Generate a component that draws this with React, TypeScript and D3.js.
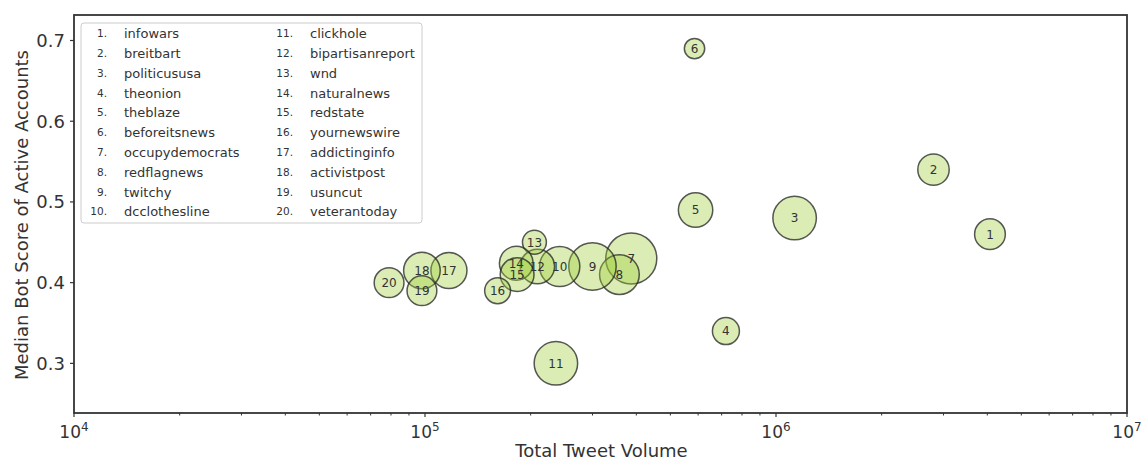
import React, { useEffect, useRef } from "react";
import * as d3 from "d3";

// news sources, numbered 1..20 in the legend
const sources = [
  "infowars", "breitbart", "politicususa", "theonion", "theblaze",
  "beforeitsnews", "occupydemocrats", "redflagnews", "twitchy", "dcclothesline",
  "clickhole", "bipartisanreport", "wnd", "naturalnews", "redstate",
  "yournewswire", "addictinginfo", "activistpost", "usuncut", "veterantoday",
];
// total tweet volume (x, log scale)
const tweetVolume = [
  4.07e6, 2.81e6, 1.13e6, 7.2e5, 5.9e5,
  5.86e5, 3.87e5, 3.58e5, 3.0e5, 2.42e5,
  2.36e5, 2.09e5, 2.05e5, 1.82e5, 1.83e5,
  1.61e5, 1.17e5, 9.8e4, 9.8e4, 7.9e4,
];
// median bot score of active accounts (y)
const botScore = [
  0.46, 0.54, 0.48, 0.34, 0.49,
  0.69, 0.43, 0.41, 0.42, 0.42,
  0.30, 0.42, 0.45, 0.424, 0.41,
  0.39, 0.415, 0.415, 0.39, 0.40,
];
// bubble size (active accounts, arbitrary units)
const accounts = [
  240, 250, 480, 185, 300,
  105, 660, 400, 570, 410,
  480, 300, 145, 290, 290,
  170, 330, 340, 225, 225,
];
const yTicks = [0.3, 0.4, 0.5, 0.6, 0.7];
const xTicks = [1e4, 1e5, 1e6, 1e7];

const App = () => {
  const svgRef = useRef(null);

  useEffect(() => {
    document.body.style.margin = "0";
    const W = 1142, H = 461;
    const margin = { top: 15, right: 15, bottom: 48, left: 74 };
    const width = W - margin.left - margin.right;
    const height = H - margin.top - margin.bottom;
    const font = "DejaVu Sans, sans-serif";

    const svg = d3.select(svgRef.current);
    svg.selectAll("*").remove();
    const g = svg.append("g").attr("transform", `translate(${margin.left},${margin.top})`);

    const x = d3.scaleLog().domain([1e4, 1e7]).range([0, width]);
    const y = d3.scaleLinear().domain([0.2385, 0.7316]).range([height, 0]);
    const r = d3.scaleSqrt().domain([0, 660]).range([0, 25.5]);

    // y axis ticks + labels
    yTicks.forEach((t) => {
      g.append("line").attr("x1", -4).attr("x2", 0).attr("y1", y(t)).attr("y2", y(t))
        .attr("stroke", "#333").attr("stroke-width", 1.2);
      g.append("text").attr("x", -9).attr("y", y(t)).attr("dy", "0.36em")
        .attr("text-anchor", "end").attr("font-family", font).attr("font-size", 18)
        .attr("fill", "#333").text(d3.format(".1f")(t));
    });

    // x minor ticks
    for (let e = 4; e < 7; e++) {
      for (let m = 2; m < 10; m++) {
        const v = m * Math.pow(10, e);
        g.append("line").attr("x1", x(v)).attr("x2", x(v)).attr("y1", height).attr("y2", height + 2.5)
          .attr("stroke", "#333").attr("stroke-width", 1);
      }
    }
    // x major ticks + labels
    xTicks.forEach((t) => {
      g.append("line").attr("x1", x(t)).attr("x2", x(t)).attr("y1", height).attr("y2", height + 4)
        .attr("stroke", "#333").attr("stroke-width", 1.2);
      const lab = g.append("text").attr("x", x(t)).attr("y", height + 25)
        .attr("text-anchor", "middle").attr("font-family", font).attr("font-size", 17).attr("fill", "#333");
      lab.append("tspan").text("10");
      lab.append("tspan").attr("font-size", 12).attr("dy", -7).text(Math.round(Math.log10(t)));
    });

    // frame
    g.append("rect").attr("width", width).attr("height", height)
      .attr("fill", "none").attr("stroke", "#333").attr("stroke-width", 1.8);

    // axis labels
    svg.append("text").attr("x", margin.left + width / 2 + 1).attr("y", 457)
      .attr("text-anchor", "middle").attr("font-family", font).attr("font-size", 18)
      .attr("fill", "#333").text("Total Tweet Volume");
    svg.append("text").attr("transform", `translate(28,215) rotate(-90)`)
      .attr("text-anchor", "middle").attr("font-family", font).attr("font-size", 18)
      .attr("fill", "#333").text("Median Bot Score of Active Accounts");

    // legend
    const leg = g.append("g").attr("transform", `translate(${81 - margin.left},${23 - margin.top})`);
    leg.append("rect").attr("width", 341).attr("height", 200).attr("rx", 3)
      .attr("fill", "white").attr("fill-opacity", 0.8).attr("stroke", "#ccc");
    sources.forEach((s, i) => {
      const col = Math.floor(i / 10), row = i % 10;
      const cx = col === 0 ? 0 : 186;
      const ty = 10.5 + row * 19.8;
      leg.append("text").attr("x", cx + 26).attr("y", ty).attr("dy", "0.36em")
        .attr("text-anchor", "end").attr("font-family", font).attr("font-size", 10.5)
        .attr("fill", "#333").text(`${i + 1}.`);
      leg.append("text").attr("x", cx + 43).attr("y", ty).attr("dy", "0.36em")
        .attr("font-family", font).attr("font-size", 13).attr("fill", "#333").text(s);
    });

    // bubbles
    const data = sources.map((s, i) => ({ i, v: tweetVolume[i], b: botScore[i], a: accounts[i] }));
    g.selectAll("circle.bub").data(data).join("circle").attr("class", "bub")
      .attr("cx", (d) => x(d.v)).attr("cy", (d) => y(d.b)).attr("r", (d) => r(d.a))
      .attr("fill", "rgb(154,205,50)").attr("fill-opacity", 0.36)
      .attr("stroke", "#222").attr("stroke-opacity", 0.75).attr("stroke-width", 1.5);
    g.selectAll("text.num").data(data).join("text").attr("class", "num")
      .attr("x", (d) => x(d.v)).attr("y", (d) => y(d.b)).attr("dy", "0.36em")
      .attr("text-anchor", "middle").attr("font-family", font).attr("font-size", 12)
      .attr("fill", "#333").text((d) => d.i + 1);

    return () => {
      svg.selectAll("*").remove();
    };
  }, []);

  return <svg ref={svgRef} width={1142} height={461} style={{ display: "block" }} />;
};

export default App;
